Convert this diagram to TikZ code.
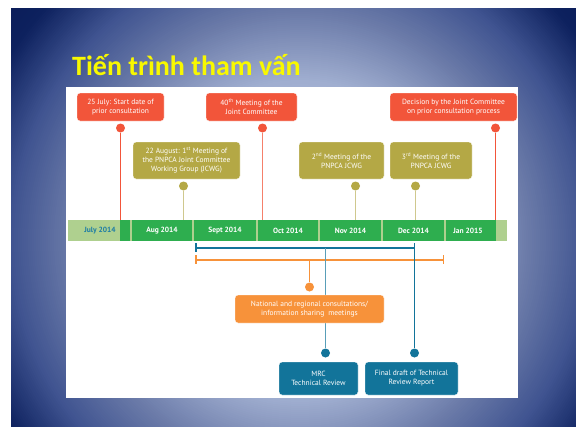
\documentclass[tikz,border=0pt]{standalone}
\usepackage{fontspec}
\setmainfont{PT Sans}
\newfontfamily\titlefont{Carlito}
\usetikzlibrary{calc}
\definecolor{cRed}{HTML}{F2553A}
\definecolor{cOlive}{HTML}{B4A845}
\definecolor{cOliveL}{HTML}{CFC88E}
\definecolor{cOrange}{HTML}{F7923A}
\definecolor{cTeal}{HTML}{12749A}
\definecolor{cGreen}{HTML}{2EAE4F}
\definecolor{cLGreen}{HTML}{AFD08F}
\definecolor{cJuly}{HTML}{1B7BA5}
\definecolor{cTitle}{HTML}{F8F800}
\definecolor{bgA}{HTML}{C5CEEA}
\definecolor{bgB}{HTML}{A0AED0}
\definecolor{bgC}{HTML}{6A7AA8}
\definecolor{bgD}{HTML}{3F5390}
\definecolor{bgE}{HTML}{0D215E}
\definecolor{bgF}{HTML}{0A1A55}
\tikzset{
  evbox/.style={rounded corners=3pt, text=white, font=\fontsize{7.5}{9}\selectfont, align=center, inner sep=0pt, draw=white, line width=0.4pt},
  redbox/.style={evbox, fill=cRed},
  olivebox/.style={evbox, fill=cOlive},
  orangebox/.style={evbox, fill=cOrange},
  tealbox/.style={evbox, fill=cTeal},
  month/.style={fill=cGreen, text=white, font=\fontsize{7.5}{9}\selectfont\bfseries, minimum height=21pt, inner sep=0pt},
  evdot/.style={circle, minimum size=9pt, inner sep=0pt},
  stem/.style={line width=1pt},
  spanline/.style={line width=2pt, line cap=butt},
  spantick/.style={line width=1.5pt, line cap=butt},
}
\begin{document}
\begin{tikzpicture}[x=1pt,y=-1pt]
\useasboundingbox (0,0) rectangle (576,426);
\fill[white] (0,0) rectangle (576,426);
% slide background (radial gradient built from rings)
\begin{scope}
\clip (11,8) rectangle (576,426);
\foreach \r in {400,398,...,2}{%
  \ifnum\r>345
    \pgfmathsetmacro{\pp}{(\r-345)/55*100}\colorlet{cc}{bgF!\pp!bgE}%
  \else\ifnum\r>290
    \pgfmathsetmacro{\pp}{(\r-290)/55*100}\colorlet{cc}{bgE!\pp!bgD}%
  \else\ifnum\r>230
    \pgfmathsetmacro{\pp}{(\r-230)/60*100}\colorlet{cc}{bgD!\pp!bgC}%
  \else\ifnum\r>160
    \pgfmathsetmacro{\pp}{(\r-160)/70*100}\colorlet{cc}{bgC!\pp!bgB}%
  \else
    \pgfmathsetmacro{\pp}{\r/160*100}\colorlet{cc}{bgB!\pp!bgA}%
  \fi\fi\fi\fi
  \fill[cc] (300,240) circle [radius=\r pt];
}
\end{scope}
% title
\node[anchor=base west, inner sep=0pt, text=cTitle, font=\titlefont\bfseries\fontsize{28}{30}\selectfont] (title) at (72,75) {Tiến trình tham vấn};
% white panel
\fill[white] (66,87) rectangle (518,398);
% timeline bar
\fill[cLGreen] (68,220) rectangle (507,241);
\fill[cGreen] (120,220) rectangle (130,241);
\node[text=cJuly, font=\fontsize{7.5}{9}\selectfont\bfseries, inner sep=0pt] (jul) at (100,230.5) {July 2014};
\node[month, minimum width=60pt] (aug) at (162,230.5) {Aug 2014};
\node[month, minimum width=62pt] (sep) at (225,230.5) {Sept 2014};
\node[month, minimum width=60pt] (oct) at (288,230.5) {Oct 2014};
\node[month, minimum width=61pt] (nov) at (350.5,230.5) {Nov 2014};
\node[month, minimum width=61pt] (dec) at (413.5,230.5) {Dec 2014};
\fill[cGreen] (446,220) rectangle (496,241);
\node[text=white, font=\fontsize{7.5}{9}\selectfont\bfseries, inner sep=0pt] (jan) at (468,230.5) {Jan 2015};
% dots
\node[evdot, fill=cRed] (dstart) at (120.5,128) {};
\node[evdot, fill=cRed] (djc) at (262.5,128) {};
\node[evdot, fill=cRed] (ddec) at (495.5,128) {};
\node[evdot, fill=cOlive] (daug) at (183.5,186) {};
\node[evdot, fill=cOlive] (dm2) at (355.5,186) {};
\node[evdot, fill=cOlive] (dm3) at (415.5,186) {};
% stems to bar
\draw[stem, cRed] (dstart) -- (dstart |- aug.north);
\draw[stem, cRed!75] (djc) -- (djc |- aug.north);
\draw[stem, cRed] (ddec) -- (ddec |- aug.north);
\draw[stem, cOliveL] (daug) -- (daug |- aug.north);
\draw[stem, cOliveL] (dm2) -- (dm2 |- aug.north);
\draw[stem, cOliveL] (dm3) -- (dm3 |- aug.north);
% brackets
\coordinate (bA) at (195,247.5);
\coordinate (bB) at (414.5,247.5);
\coordinate (oA) at (195,259.5);
\coordinate (oB) at (444,259.5);
\draw[draw=cTeal, spanline] (bA) -- (bB);
\draw[draw=cTeal, spantick] ($(bA)+(0.75,-4.5)$) -- ($(bA)+(0.75,4.5)$);
\draw[draw=cTeal, spantick] ($(bB)+(0,-4.5)$) -- ($(bB)+(0,4.5)$);
\draw[draw=cOrange, spanline] (oA) -- (oB);
\draw[draw=cOrange, spantick] ($(oA)+(0.75,-4.5)$) -- ($(oA)+(0.75,4.5)$);
\draw[draw=cOrange, spantick] ($(oB)+(-0.75,-4.5)$) -- ($(oB)+(-0.75,4.5)$);
% lower dots
\node[evdot, fill=cOrange] (dnat) at (309.5,287) {};
\node[evdot, fill=cTeal] (dmrc) at (325.5,353) {};
\node[evdot, fill=cTeal] (dfin) at (414.5,353) {};
\coordinate (bM) at (325.5,247.5);
\coordinate (oM) at (309.5,259.5);
\draw[stem, draw=cTeal!70] (bM) -- (dmrc);
\draw[stem, draw=cTeal] (bB) -- (dfin);
\draw[stem, draw=cOrange] (oM) -- (dnat);
% boxes
\node[redbox, minimum width=87pt, minimum height=28pt] (start) at (120.5,107) {25 July: Start date of\\prior consultation};
\node[redbox, minimum width=91pt, minimum height=28pt] (jc) at (251.5,107) {40\textsuperscript{th} Meeting of the\\Joint Committee};
\node[redbox, minimum width=127pt, minimum height=28pt] (decision) at (453.5,107) {Decision by the Joint Committee\\on prior consultation process};
\node[olivebox, minimum width=107pt, minimum height=37pt] (aug22) at (186.5,160.5) {22 August: 1\textsuperscript{st} Meeting of\\the PNPCA Joint Committee\\Working Group (JCWG)};
\node[olivebox, minimum width=85pt, minimum height=37pt] (m2) at (341.5,160.5) {2\textsuperscript{nd} Meeting of the\\PNPCA JCWG};
\node[olivebox, minimum width=82pt, minimum height=37pt] (m3) at (431,160.5) {3\textsuperscript{rd} Meeting of the\\PNPCA JCWG};
\node[orangebox, minimum width=149pt, minimum height=28pt] (nat) at (309.5,309) {National and regional consultations/\\information sharing\ \ meetings};
\node[tealbox, minimum width=79pt, minimum height=33pt] (mrc) at (318.5,378.5) {MRC\\Technical Review};
\node[tealbox, minimum width=93pt, minimum height=33pt] (final) at (411.5,378.5) {Final draft of Technical\\Review Report};
\end{tikzpicture}
\end{document}
